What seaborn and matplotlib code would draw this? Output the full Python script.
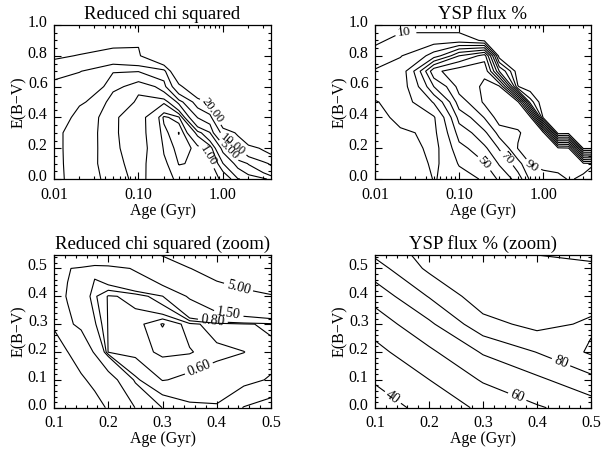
import numpy as np
import matplotlib
matplotlib.use("Agg")
import matplotlib.pyplot as plt
import matplotlib.ticker as mticker
import matplotlib.transforms as mtrans
import seaborn as sns

# ---------------- data ----------------
AGES_FULL = [0.01, 0.02, 0.05, 0.1, 0.2, 0.3, 0.5, 0.7, 1.0, 1.5, 2.0, 3.0, 3.7]
EBV_FULL = [0.0, 0.1, 0.2, 0.3, 0.4, 0.5, 0.6, 0.7, 0.8, 0.9, 1.0]

CHI2_FULL = [
    [5.67, 3.6, 2.46, 1.6, 1.15, 0.9, 0.867, 0.9, 1.05, 1.967, 2.16, 2.7, 3.4],
    [5.58, 3.6, 2.2, 1.633, 1.05, 0.79, 0.827, 0.88, 1.983, 3.44, 5.17, 8.33, 11],
    [5.5, 3.7, 2.08, 1.7, 0.967, 0.7, 0.867, 1.2, 3.4, 10.2, 15.8, 22, 26],
    [5.5, 3.7, 2.06, 1.683, 0.867, 0.588, 1.667, 2.9, 12, 22.4, 36.8, 50, 50],
    [6.83, 3.8, 2.06, 1.7, 0.75, 0.933, 5.08, 6.67, 38.6, 50, 60, 70, 80],
    [7.5, 5.43, 2.06, 1.983, 1.583, 3.3, 13, 24, 60, 70, 80, 90, 100],
    [8.33, 7.5, 3.5, 2.02, 3.74, 16, 41.8, 50, 80, 90, 100, 110, 120],
    [12.2, 10.2, 5.17, 5.08, 7.17, 40, 60, 70, 100, 110, 120, 130, 140],
    [22.4, 19, 15.8, 18.8, 39.8, 60, 80, 90, 120, 130, 140, 150, 160],
    [40, 31.4, 24.2, 21, 60, 80, 100, 110, 140, 150, 160, 170, 180],
    [60, 50, 40, 40, 80, 100, 120, 130, 160, 170, 180, 190, 200],
]
CHI2_FULL_LEVELS = [0.6, 0.8, 1.0, 1.5, 2.0, 3.0, 5.0, 10.0, 20.0]

YSP_FULL = [
    [38, 38, 29.5, 35, 42, 52, 65, 82, 86, 88, 90.5, 89, 87],
    [37, 36.5, 28, 41, 50, 61, 76, 91, 93, 93, 93, 92, 91],
    [36, 34, 27, 47, 58, 71, 90.5, 94, 94, 92, 90.8, 8, 8],
    [34, 31, 28, 54.3, 68, 84, 89, 94, 93, 5, 6, 1, 1],
    [32, 28, 29, 63.8, 80.6, 96, 94, 93, 8, 1, 1, 1, 1],
    [30.5, 26, 41, 75.7, 92, 94, 92, 25, 1, 1, 1, 1, 1],
    [26, 25, 60, 84, 92, 92, 10.5, 3, 1, 1, 1, 1, 1],
    [21, 24, 78, 86, 88, 40, 3, 1, 1, 1, 1, 1, 1],
    [14, 19.5, 35, 60, 75, 5, 1, 1, 1, 1, 1, 1, 1],
    [8, 14, 15, 15, 8, 2, 1, 1, 1, 1, 1, 1, 1],
    [3, 6, 5, 5, 3, 1, 1, 1, 1, 1, 1, 1, 1],
]
YSP_LEVELS = [10, 20, 30, 40, 50, 60, 70, 80, 90]

AGES_ZOOM_CHI = [0.1, 0.125, 0.15, 0.175, 0.2, 0.25, 0.3, 0.35, 0.4, 0.45, 0.5]
EBV_ZOOM = [0.0, 0.1, 0.2, 0.3, 0.4, 0.5, 0.6]
CHI2_ZOOM = [
    [14, 11, 8.5, 6.5, 4.6, 1.45, 0.79, 0.72, 0.71, 0.805, 0.85],
    [10, 7.5, 5.6, 4.0, 1.9, 0.72, 0.595, 0.62, 0.64, 0.67, 0.71],
    [7, 5.05, 3.0, 1.3, 0.59, 0.57, 0.54, 0.545, 0.58, 0.598, 0.66],
    [4.5, 1.8, 1.1, 0.82, 0.59, 0.575, 0.495, 0.575, 0.64, 0.68, 0.73],
    [2.2, 1.4, 0.95, 0.72, 0.59, 0.62, 0.79, 1.6, 2.6, 3.6, 4.6],
    [3.2, 1.6, 1.2, 0.85, 1.1, 1.6, 2.6, 4.9, 7, 9, 11],
    [7, 8.4, 8.8, 7, 5.5, 5.5, 8, 11, 14, 17, 20],
]
CHI2_ZOOM_LEVELS = [0.5, 0.55, 0.6, 0.7, 0.8, 1.5, 5.0]

AGES_ZOOM_YSP = [0.1, 0.2, 0.3, 0.4, 0.5]
YSP_ZOOM = [
    [34.9, 43.5, 52, 59, 64.8],
    [41, 49.9, 61, 68, 77],
    [47, 58, 71, 80.3, 91.5],
    [54.3, 68, 86.5, 93, 88.5],
    [63.8, 80.6, 96, 94, 94],
    [75.7, 92, 94, 94, 92],
    [87.5, 93, 94, 85.7, 84],
]

TITLES = ["Reduced chi squared", "YSP flux %",
          "Reduced chi squared (zoom)", "YSP flux % (zoom)"]
XLABEL = "Age (Gyr)"
YLABEL = "E(B\u2212V)"

# label positions: (level, age, E(B-V))
LAB_TL = [(20.0, 0.76, 0.45), (1.0, 0.84, 0.19), (10.0, 1.2, 0.2), (5.0, 0.96, 0.145)]
LAB_TR = [(10, 0.022, 0.914), (50, 0.195, 0.1), (70, 0.386, 0.145), (90, 0.73, 0.08)]
LAB_BL = [(5.0, 0.443, 0.452), (1.5, 0.424, 0.362), (0.8, 0.393, 0.314), (0.6, 0.375, 0.103)]
LAB_BR = [(80, 0.446, 0.171), (60, 0.366, 0.052), (40, 0.134, 0.039)]

# ---------------- style ----------------
sns.set_theme(style="ticks")
plt.rcParams["font.family"] = ["Liberation Serif", "DejaVu Serif"]
plt.rcParams["axes.linewidth"] = 0.9
plt.rcParams["axes.edgecolor"] = "black"

W, H = 603, 451
fig = plt.figure(figsize=(W / 100, H / 100), dpi=100)


def box(l, t, r, b):
    return [l / W, 1 - b / H, (r - l) / W, (b - t) / H]


axes = [
    fig.add_axes(box(54, 25, 271, 179)),
    fig.add_axes(box(375, 25, 591, 179)),
    fig.add_axes(box(54, 254.5, 271, 407.7)),
    fig.add_axes(box(375, 254.5, 591, 407.7)),
]


def style_axis(ax, title):
    ax.set_title(title, fontsize=13.5, pad=4, color="black")
    ax.set_xlabel(XLABEL, fontsize=11.5, labelpad=0, color="black")
    ax.set_ylabel(YLABEL, fontsize=11.5, labelpad=0.5, color="black")
    ax.tick_params(which="both", direction="in", top=True, right=True,
                   labelsize=11.5, colors="black", width=0.8)
    ax.tick_params(axis="x", which="both", pad=5.5)
    ax.tick_params(axis="y", which="both", pad=4.5)
    ax.tick_params(which="major", length=5)
    ax.tick_params(which="minor", length=2.5)
    for s in ax.spines.values():
        s.set_color("black")
        s.set_linewidth(0.9)


def draw_contours(ax, xs, ys, table, levels, labels, fmt, fs):
    X, Y = np.meshgrid(xs, ys)
    Z = np.array(table, dtype=float)
    lab_levels = {lev for lev, _, _ in labels}
    plain = [lv for lv in levels if lv not in lab_levels]
    ax.contour(X, Y, Z, levels=plain, colors="black", linewidths=0.8)
    for lev, x, y in labels:
        cs = ax.contour(X, Y, Z, levels=[lev], colors="black", linewidths=0.8)
        ax.clabel(cs, manual=[(x, y)], fmt=fmt, inline=True,
                  inline_spacing=3, fontsize=fs, colors="black")


for ax in axes[:2]:
    ax.set_xscale("log")
    ax.set_xlim(0.01, 3.7)
    ax.set_ylim(0, 1.0)
for ax in axes[2:]:
    ax.set_xlim(0.1, 0.5)
    ax.set_ylim(0, 0.55)

draw_contours(axes[0], AGES_FULL, EBV_FULL, CHI2_FULL, CHI2_FULL_LEVELS, LAB_TL, "%.2f", 9)
draw_contours(axes[1], AGES_FULL, EBV_FULL, YSP_FULL, YSP_LEVELS, LAB_TR, "%d", 9.5)
draw_contours(axes[2], AGES_ZOOM_CHI, EBV_ZOOM, CHI2_ZOOM, CHI2_ZOOM_LEVELS, LAB_BL, "%.2f", 10)
draw_contours(axes[3], AGES_ZOOM_YSP, EBV_ZOOM, YSP_ZOOM, YSP_LEVELS, LAB_BR, "%d", 10)

for ax in axes[:2]:
    ax.set_xlim(0.01, 3.7)
    ax.set_ylim(0, 1.0)
    ax.xaxis.set_major_locator(mticker.FixedLocator([0.01, 0.1, 1.0]))
    ax.xaxis.set_major_formatter(mticker.FixedFormatter(["0.01", "0.10", "1.00"]))
    ax.xaxis.set_minor_locator(mticker.LogLocator(base=10, subs=np.arange(2, 10)))
    ax.xaxis.set_minor_formatter(mticker.NullFormatter())
    ax.yaxis.set_major_locator(mticker.MultipleLocator(0.2))
    ax.yaxis.set_minor_locator(mticker.MultipleLocator(0.05))
    ax.yaxis.set_major_formatter(mticker.FormatStrFormatter("%.1f"))

for ax in axes[2:]:
    ax.set_xlim(0.1, 0.5)
    ax.set_ylim(0, 0.55)
    ax.xaxis.set_major_locator(mticker.MultipleLocator(0.1))
    ax.xaxis.set_minor_locator(mticker.MultipleLocator(0.02))
    ax.xaxis.set_major_formatter(mticker.FormatStrFormatter("%.1f"))
    ax.yaxis.set_major_locator(mticker.MultipleLocator(0.1))
    ax.yaxis.set_minor_locator(mticker.MultipleLocator(0.02))
    ax.yaxis.set_major_formatter(mticker.FormatStrFormatter("%.1f"))

for ax, t in zip(axes, TITLES):
    style_axis(ax, t)
    shift = mtrans.ScaledTranslation(0, 3 / 72, fig.dpi_scale_trans)
    for lab in ax.get_yticklabels():
        lab.set_transform(lab.get_transform() + shift)

fig.savefig("out.png", dpi=100, facecolor="white")
